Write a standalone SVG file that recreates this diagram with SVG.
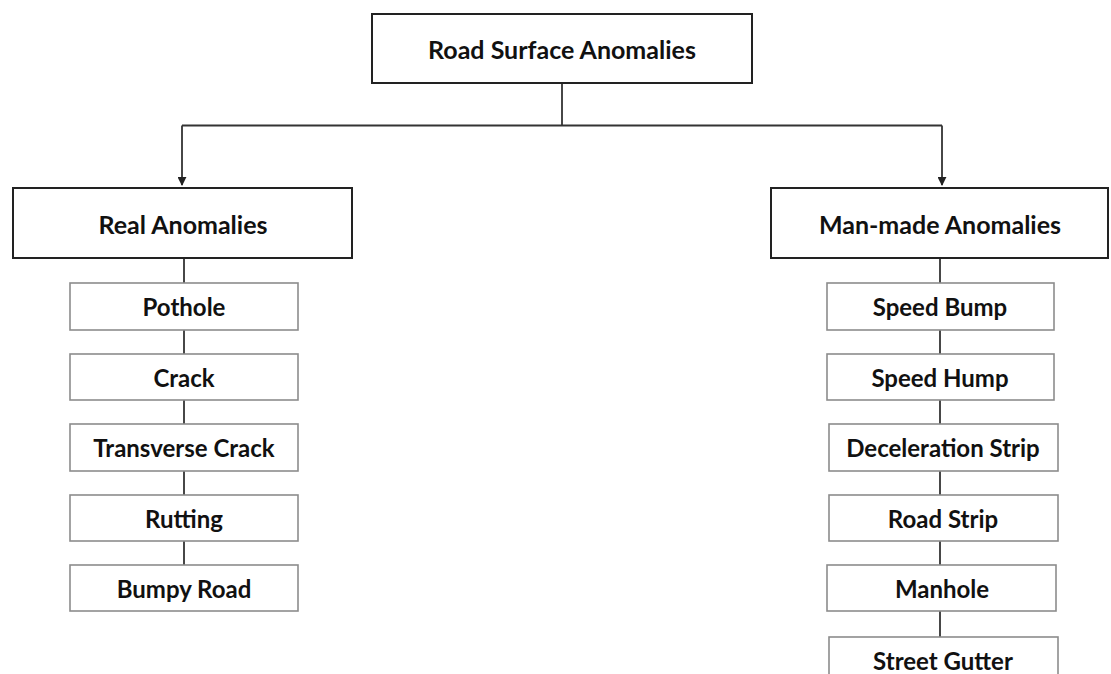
<svg xmlns="http://www.w3.org/2000/svg" width="1111" height="674" viewBox="0 0 1111 674">
  <defs>
    <marker id="arrow" viewBox="0 0 10 10" refX="9" refY="5" markerWidth="5" markerHeight="5" orient="auto">
      <path d="M0,0 L10,5 L0,10 z" fill="#222"/>
    </marker>
  </defs>
  <style>
    .main rect { fill: #fff; stroke: #222; stroke-width: 2; }
    .leaf rect { fill: #fff; stroke: #8c8c8c; stroke-width: 1.6; }
    text { font-family: Lato, "Liberation Sans", sans-serif; font-weight: bold; fill: #111; text-anchor: middle; dominant-baseline: central; }
    .main text { font-size: 25px; }
    .leaf text { font-size: 24px; }
    .conn line, .conn path { fill: none; stroke: #333; stroke-width: 1.8; }
  </style>
  <rect width="1111" height="674" fill="#fff"/>

  <!-- connectors: root to categories, then each category down its list -->
  <g class="conn">
    <path d="M562,83 V125.5"/>
    <path d="M182,125.5 H942"/>
    <path d="M182,125.5 V185" marker-end="url(#arrow)"/>
    <path d="M942,125.5 V185" marker-end="url(#arrow)"/>
    <line x1="184" y1="258" x2="184" y2="283"/>
    <line x1="184" y1="330" x2="184" y2="354"/>
    <line x1="184" y1="400" x2="184" y2="424"/>
    <line x1="184" y1="471" x2="184" y2="495"/>
    <line x1="184" y1="541" x2="184" y2="565"/>
    <line x1="940" y1="258" x2="940" y2="283"/>
    <line x1="940" y1="330" x2="940" y2="354"/>
    <line x1="940" y1="400" x2="940" y2="424"/>
    <line x1="940" y1="471" x2="940" y2="495"/>
    <line x1="940" y1="541" x2="940" y2="565"/>
    <line x1="940" y1="611" x2="940" y2="637"/>
  </g>

  <g id="root" class="main">
    <rect x="372" y="14" width="380" height="69"/>
    <text x="562" y="49">Road Surface Anomalies</text>
  </g>
  <g id="real" class="main">
    <rect x="13" y="188" width="339" height="70"/>
    <text x="183" y="224">Real Anomalies</text>
  </g>
  <g id="manmade" class="main">
    <rect x="771" y="188" width="337" height="70"/>
    <text x="940" y="224">Man-made Anomalies</text>
  </g>

  <g id="pothole" class="leaf">
    <rect x="70" y="283" width="228" height="47"/>
    <text x="184" y="306.5">Pothole</text>
  </g>
  <g id="crack" class="leaf">
    <rect x="70" y="354" width="228" height="46"/>
    <text x="184" y="377">Crack</text>
  </g>
  <g id="transverse-crack" class="leaf">
    <rect x="70" y="424" width="228" height="47"/>
    <text x="184" y="447.5">Transverse Crack</text>
  </g>
  <g id="rutting" class="leaf">
    <rect x="70" y="495" width="228" height="46"/>
    <text x="184" y="518">Rutting</text>
  </g>
  <g id="bumpy-road" class="leaf">
    <rect x="70" y="565" width="228" height="46"/>
    <text x="184" y="588">Bumpy Road</text>
  </g>

  <g id="speed-bump" class="leaf">
    <rect x="827" y="283" width="227" height="47"/>
    <text x="940" y="306.5">Speed Bump</text>
  </g>
  <g id="speed-hump" class="leaf">
    <rect x="827" y="354" width="227" height="46"/>
    <text x="940" y="377">Speed Hump</text>
  </g>
  <g id="deceleration-strip" class="leaf">
    <rect x="829" y="424" width="229" height="47"/>
    <text x="943" y="447.5">Deceleration Strip</text>
  </g>
  <g id="road-strip" class="leaf">
    <rect x="829" y="495" width="229" height="46"/>
    <text x="943" y="518">Road Strip</text>
  </g>
  <g id="manhole" class="leaf">
    <rect x="827" y="565" width="229" height="46"/>
    <text x="942" y="588">Manhole</text>
  </g>
  <g id="street-gutter" class="leaf">
    <rect x="829" y="637" width="229" height="50"/>
    <text x="943" y="660">Street Gutter</text>
  </g>
</svg>
